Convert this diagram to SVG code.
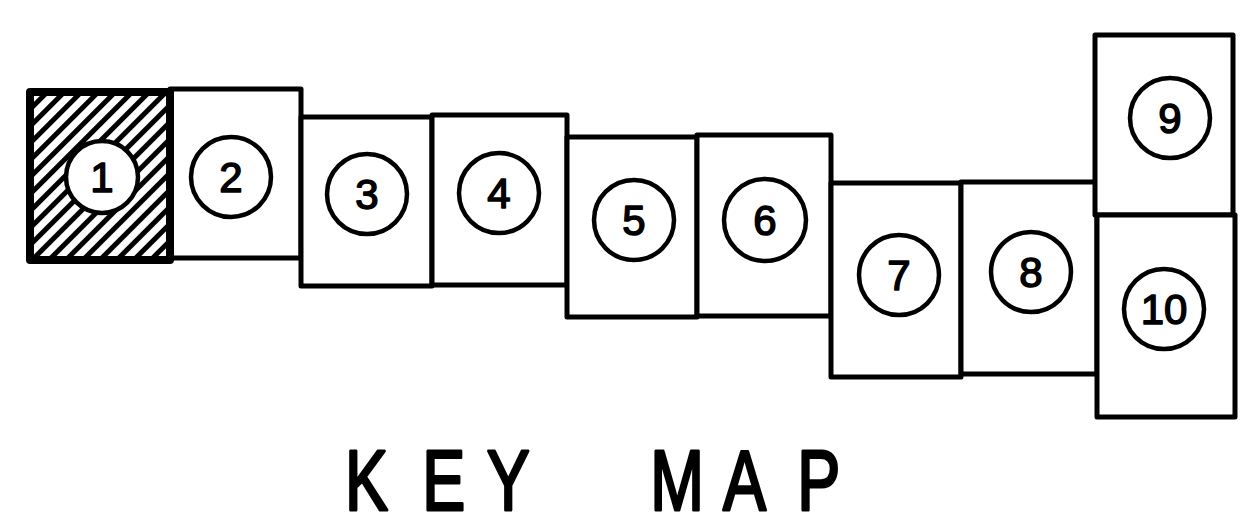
<svg xmlns="http://www.w3.org/2000/svg" width="1245" height="521" viewBox="0 0 1245 521">
<style>
.box{fill:#fff;stroke:#000;stroke-width:5;stroke-linejoin:round}
.c{fill:#fff;stroke:#000;stroke-width:4.5}
.n{font-family:"Liberation Sans",Arial,sans-serif;font-size:42px;text-anchor:middle;fill:#000;stroke:#000;stroke-width:1.5;stroke-linejoin:round}
.title{font-family:"Liberation Sans",Arial,sans-serif;font-size:86px;fill:#000;stroke:#000;stroke-width:3;stroke-linejoin:round}
</style>
<defs>
<pattern id="hatch" width="12" height="12" patternUnits="userSpaceOnUse" patternTransform="rotate(45)">
<rect width="12" height="12" fill="#fff"/>
<rect x="0" y="0" width="5" height="12" fill="#000"/>
</pattern>
</defs>
<rect width="1245" height="521" fill="#fff"/>
<g id="panel2"><rect class="box" x="170" y="89" width="131" height="169"/><circle class="c" cx="231" cy="177" r="40"/><text class="n" x="231" y="192">2</text></g>
<g id="panel3"><rect class="box" x="301" y="117" width="131" height="169"/><circle class="c" cx="367" cy="194" r="40"/><text class="n" x="367" y="209">3</text></g>
<g id="panel4"><rect class="box" x="432" y="115" width="135" height="170"/><circle class="c" cx="499" cy="193" r="40"/><text class="n" x="499" y="208">4</text></g>
<g id="panel5"><rect class="box" x="567" y="137" width="130" height="180"/><circle class="c" cx="634" cy="220" r="40"/><text class="n" x="634" y="235">5</text></g>
<g id="panel6"><rect class="box" x="697" y="135" width="134" height="181"/><circle class="c" cx="765" cy="220" r="41"/><text class="n" x="765" y="235">6</text></g>
<g id="panel7"><rect class="box" x="831" y="183" width="130" height="194"/><circle class="c" cx="899" cy="275" r="40"/><text class="n" x="899" y="290">7</text></g>
<g id="panel8"><rect class="box" x="961" y="182" width="136" height="192"/><circle class="c" cx="1031" cy="272" r="40"/><text class="n" x="1031" y="287">8</text></g>
<g id="panel9"><rect class="box" x="1095" y="35" width="138" height="180"/><circle class="c" cx="1170" cy="118" r="40"/><text class="n" x="1170" y="133">9</text></g>
<g id="panel10"><rect class="box" x="1097" y="215" width="138" height="202"/><circle class="c" cx="1164" cy="309" r="40"/><text class="n" x="1164" y="324">10</text></g>
<g id="panel1"><rect x="30" y="92" width="140" height="168" fill="url(#hatch)" stroke="#000" stroke-width="8" stroke-linejoin="round"/><circle class="c" cx="102" cy="177" r="36"/><text class="n" x="102" y="192">1</text></g>
<g id="connectors"></g>
<g transform="scale(0.75,1)">
<text class="title" x="460 563 649 800 867 964 1063" y="510">KEY MAP</text>
</g>
</svg>
